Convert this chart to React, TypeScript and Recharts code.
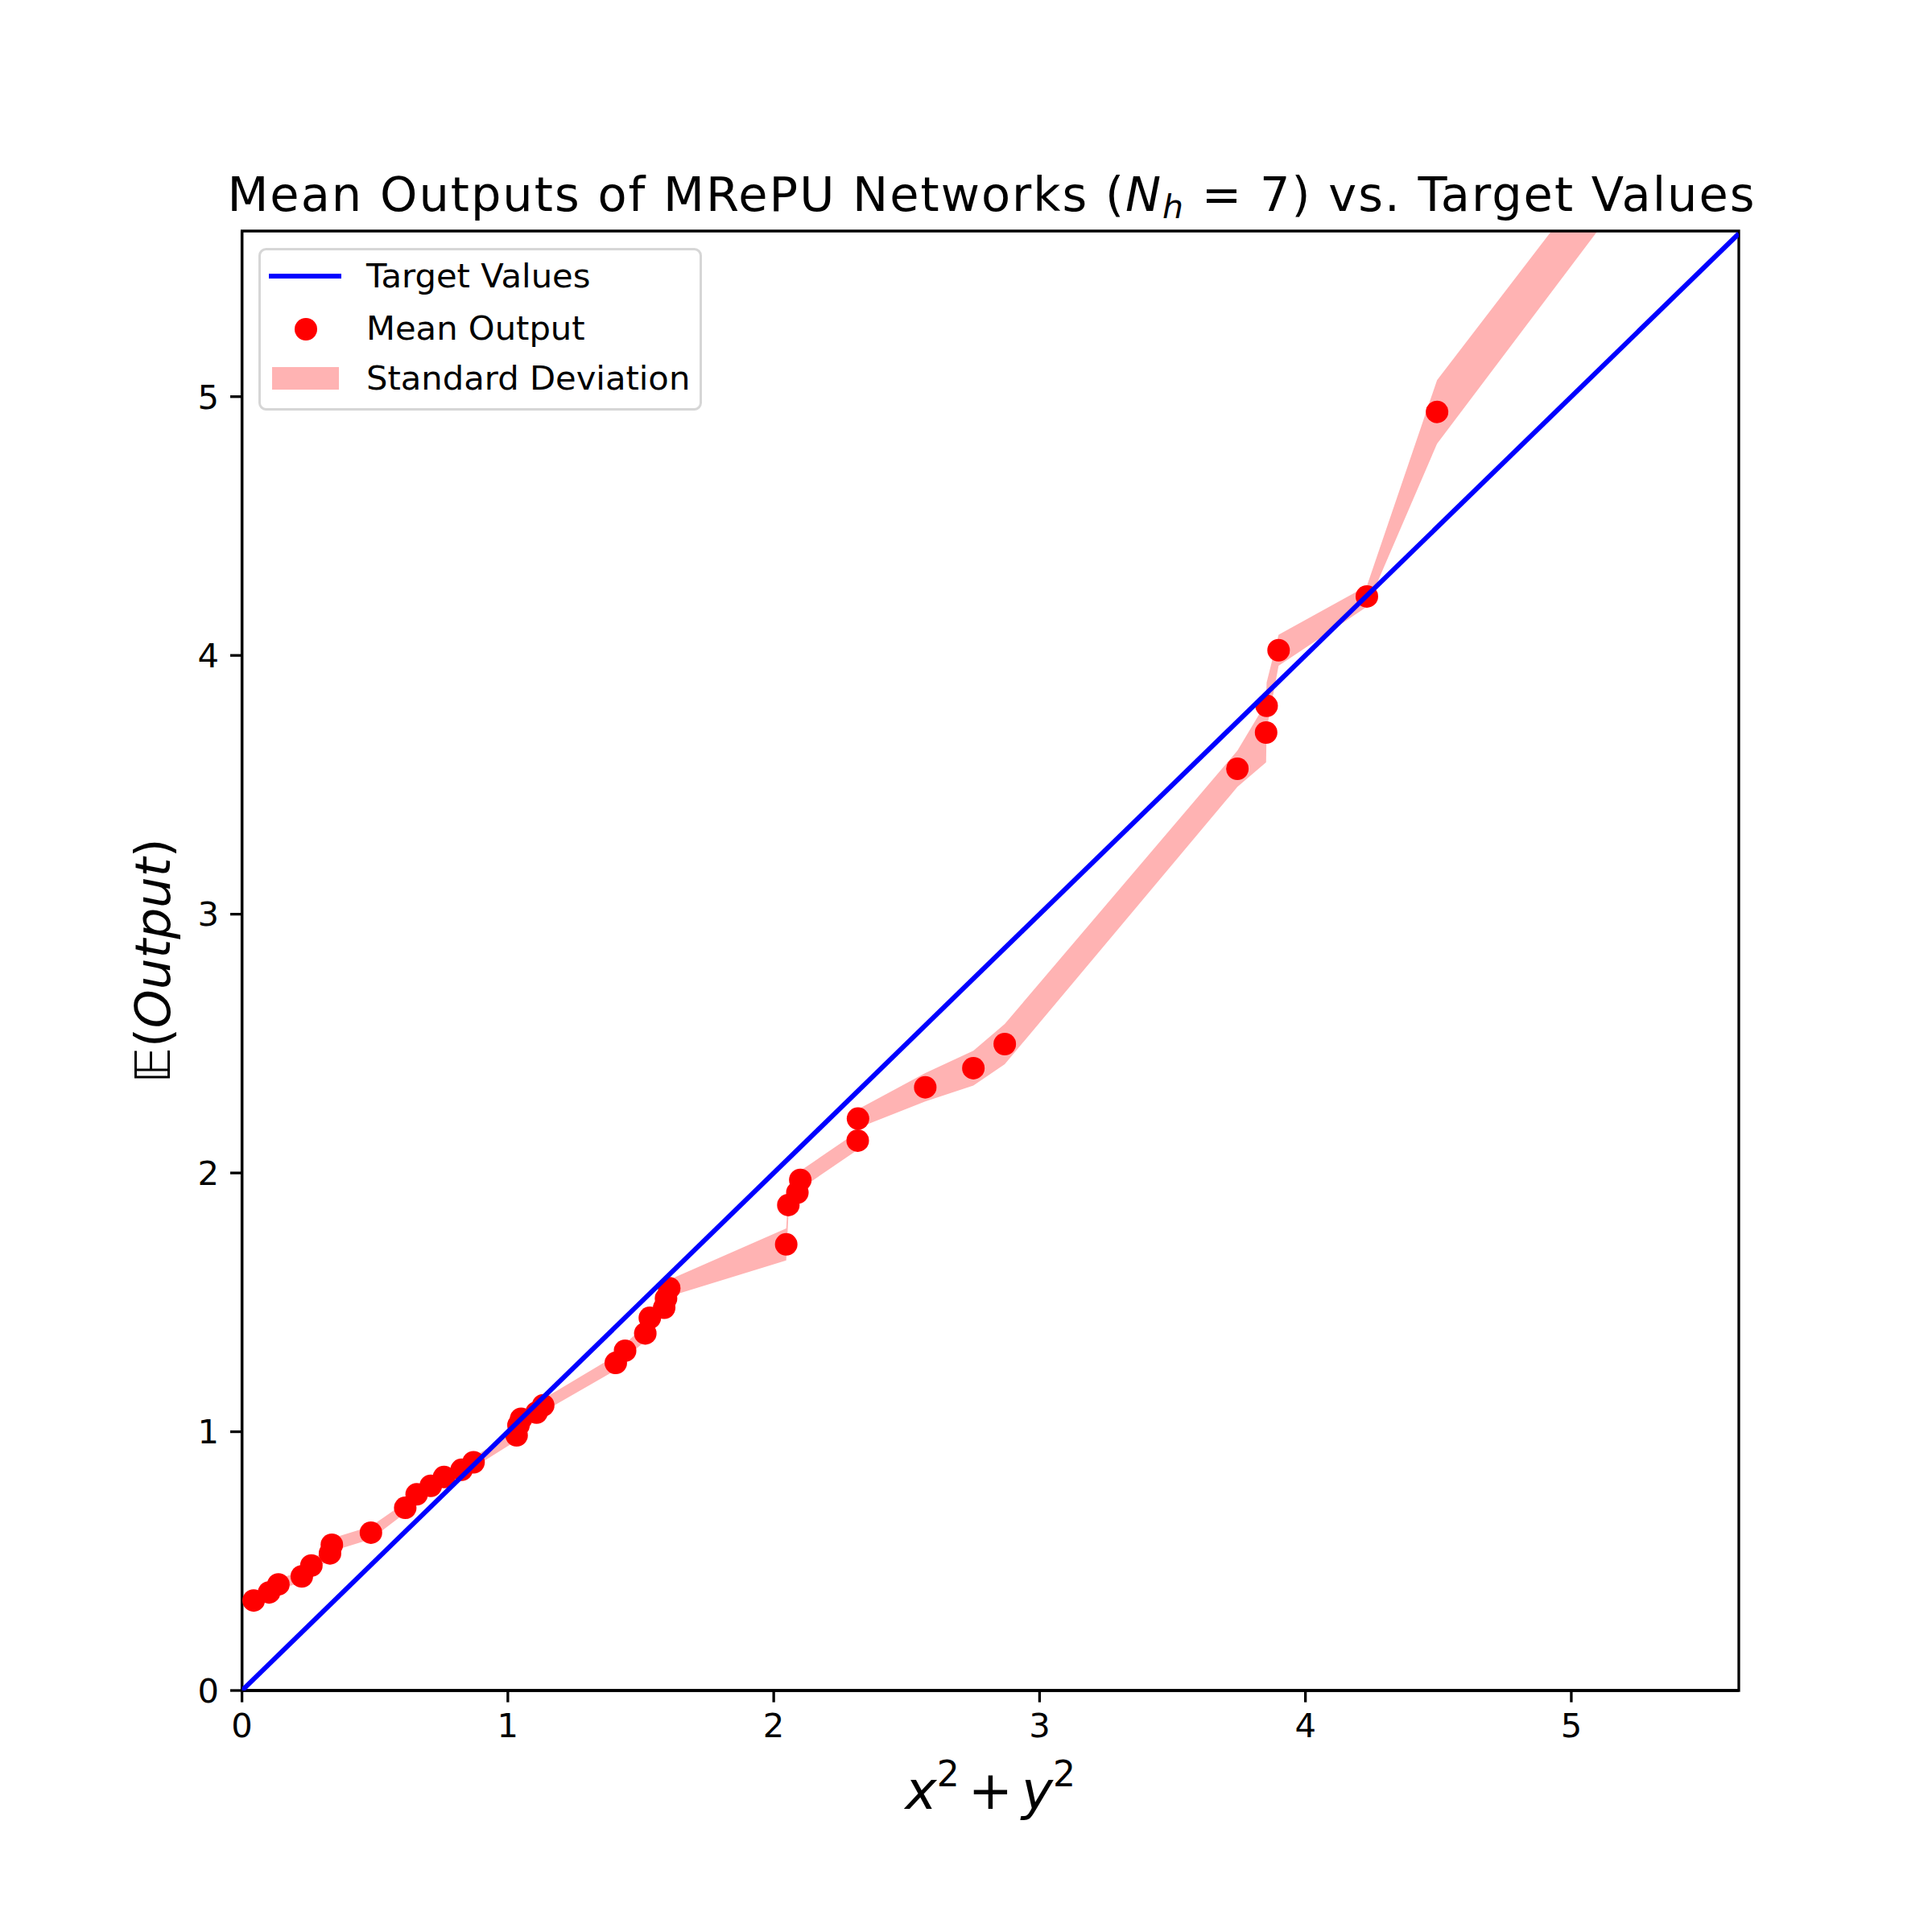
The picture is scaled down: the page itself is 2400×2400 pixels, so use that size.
import React from "react";
import {
  ComposedChart,
  Area,
  Line,
  Scatter,
  XAxis,
  YAxis,
  ReferenceArea,
  Legend,
} from "recharts";

// x^2 + y^2 of each sample (sorted)
const sampleX = [
  0.044, 0.102, 0.137, 0.225, 0.261, 0.331, 0.338, 0.485, 0.614, 0.657, 0.71,
  0.76, 0.826, 0.871, 1.033, 1.04, 1.05, 1.108, 1.133, 1.406, 1.441, 1.517,
  1.534, 1.588, 1.595, 1.607, 2.047, 2.055, 2.089, 2.1, 2.316, 2.317, 2.57,
  2.751, 2.869, 3.744, 3.852, 3.854, 3.899, 4.231, 4.495, 5.62,
];
// mean network output at each sample
const meanOutput = [
  0.348, 0.379, 0.41, 0.441, 0.483, 0.53, 0.563, 0.61, 0.706, 0.758, 0.791,
  0.825, 0.853, 0.882, 0.986, 1.025, 1.05, 1.074, 1.102, 1.266, 1.313, 1.38,
  1.44, 1.479, 1.515, 1.555, 1.724, 1.876, 1.924, 1.973, 2.125, 2.21, 2.331,
  2.405, 2.498, 3.562, 3.702, 3.805, 4.02, 4.228, 4.941, 6.46,
];
// standard deviation across networks
const stdDev = [
  0.02, 0.02, 0.02, 0.022, 0.022, 0.025, 0.025, 0.025, 0.02, 0.02, 0.02, 0.02,
  0.02, 0.02, 0.02, 0.02, 0.02, 0.025, 0.025, 0.028, 0.028, 0.03, 0.03, 0.03,
  0.03, 0.032, 0.062, 0.045, 0.035, 0.035, 0.035, 0.036, 0.055, 0.067, 0.078,
  0.07, 0.115, 0.09, 0.06, 0.04, 0.123, 0.11,
];
const targetX = [0, 5.63];
const xTicks = [0, 1, 2, 3, 4, 5];
const yTicks = [0, 1, 2, 3, 4, 5];

const X_MAX = 5.63;
const Y_MAX = 5.64;
const FONT = "DejaVu Sans";

const rows = sampleX.map((x, i) => ({
  x,
  mean: meanOutput[i],
  band: [meanOutput[i] - stdDev[i], meanOutput[i] + stdDev[i]],
}));
const targetRows = targetX.map((x) => ({ x, target: x }));

const tickStyle = { fontSize: 41.7, fontFamily: FONT, fill: "#000" };

function LegendBox() {
  return (
    <svg width={551} height={202} style={{ display: "block" }}>
      <rect
        x={1.5}
        y={1.5}
        width={548}
        height={199}
        rx={8}
        fill="#fff"
        fillOpacity={0.8}
        stroke="#d6d6d6"
        strokeWidth={3}
      />
      <line x1={13} x2={103} y1={35} y2={35} stroke="#0000ff" strokeWidth={6} />
      <circle cx={59} cy={101} r={14} fill="#ff0000" />
      <rect x={17} y={148} width={83} height={28} fill="#ffb3b3" />
      <g fontFamily={FONT} fontSize={41.7} fill="#000">
        <text x={134} y={49}>Target Values</text>
        <text x={134} y={114}>Mean Output</text>
        <text x={134} y={176}>Standard Deviation</text>
      </g>
    </svg>
  );
}

function XLabel(props: any) {
  const vb = props.viewBox;
  const cx = vb.x + vb.width / 2;
  return (
    <text
      x={cx}
      y={vb.y + 147}
      textAnchor="middle"
      fontFamily={FONT}
      fontSize={66}
      fill="#000"
    >
      <tspan fontStyle="italic">x</tspan>
      <tspan fontSize={44} dy={-28}>2</tspan>
      <tspan dy={28} dx={11}>+</tspan>
      <tspan fontStyle="italic" dx={11}>y</tspan>
      <tspan fontSize={44} dy={-28}>2</tspan>
    </text>
  );
}

function YLabel(props: any) {
  const vb = props.viewBox;
  const cx = vb.x + 60;
  const cy = vb.y + vb.height / 2;
  return (
    <text
      x={cx}
      y={cy}
      transform={`rotate(-90, ${cx}, ${cy})`}
      textAnchor="middle"
      fontFamily={FONT}
      fontSize={61}
      fill="#000"
    >
      <tspan>𝔼(</tspan>
      <tspan fontStyle="italic">Output</tspan>
      <tspan>)</tspan>
    </text>
  );
}

export default function App() {
  return (
    <div
      style={{
        position: "absolute",
        left: 0,
        top: 0,
        width: 2400,
        height: 2400,
        background: "#fff",
      }}
    >
      <ComposedChart
        width={2400}
        height={2400}
        data={rows}
        margin={{ top: 287, right: 240, bottom: 150, left: 150.6 }}
      >
        <XAxis
          type="number"
          dataKey="x"
          domain={[0, X_MAX]}
          ticks={xTicks}
          allowDataOverflow
          height={150}
          tick={tickStyle}
          tickSize={14.6}
          tickMargin={14}
          axisLine={{ stroke: "#000", strokeWidth: 3.3 }}
          tickLine={{ stroke: "#000", strokeWidth: 3.3 }}
          label={<XLabel />}
        />
        <YAxis
          type="number"
          domain={[0, Y_MAX]}
          ticks={yTicks}
          allowDataOverflow
          width={150}
          tick={tickStyle}
          tickSize={14.6}
          tickMargin={14}
          axisLine={{ stroke: "#000", strokeWidth: 3.3 }}
          tickLine={{ stroke: "#000", strokeWidth: 3.3 }}
          label={<YLabel />}
        />
        <Area
          type="linear"
          dataKey="band"
          stroke="none"
          fill="#ffb3b3"
          fillOpacity={1}
          isAnimationActive={false}
          activeDot={false}
          dot={false}
        />
        <Scatter
          data={rows}
          dataKey="mean"
          fill="#ff0000"
          isAnimationActive={false}
          shape={(p: any) => <circle cx={p.cx} cy={p.cy} r={14} fill="#ff0000" />}
        />
        <Line
          data={targetRows}
          dataKey="target"
          type="linear"
          stroke="#0000ff"
          strokeWidth={6}
          dot={false}
          activeDot={false}
          isAnimationActive={false}
          zIndex={700}
        />
        <ReferenceArea
          x1={0}
          x2={X_MAX}
          y1={0}
          y2={Y_MAX}
          fill="none"
          fillOpacity={0}
          stroke="#000"
          strokeWidth={3.3}
          ifOverflow="visible"
        />
        <Legend
          layout="horizontal"
          verticalAlign="middle"
          align="center"
          content={() => <LegendBox />}
          wrapperStyle={{ left: 321, top: 308, width: 551, height: 202 }}
        />
      </ComposedChart>
      <svg
        width={2400}
        height={320}
        style={{ position: "absolute", left: 0, top: 0, pointerEvents: "none" }}
      >
        <text
          x={1232}
          y={262}
          textAnchor="middle"
          fontFamily={FONT}
          fontSize={59}
          letterSpacing={2}
          fill="#000"
        >
          Mean Outputs of MRePU Networks (
          <tspan fontStyle="italic">N</tspan>
          <tspan fontStyle="italic" fontSize={41} dy={9}>
            h
          </tspan>
          <tspan dy={-9}>{" = 7) vs. Target Values"}</tspan>
        </text>
      </svg>
    </div>
  );
}
